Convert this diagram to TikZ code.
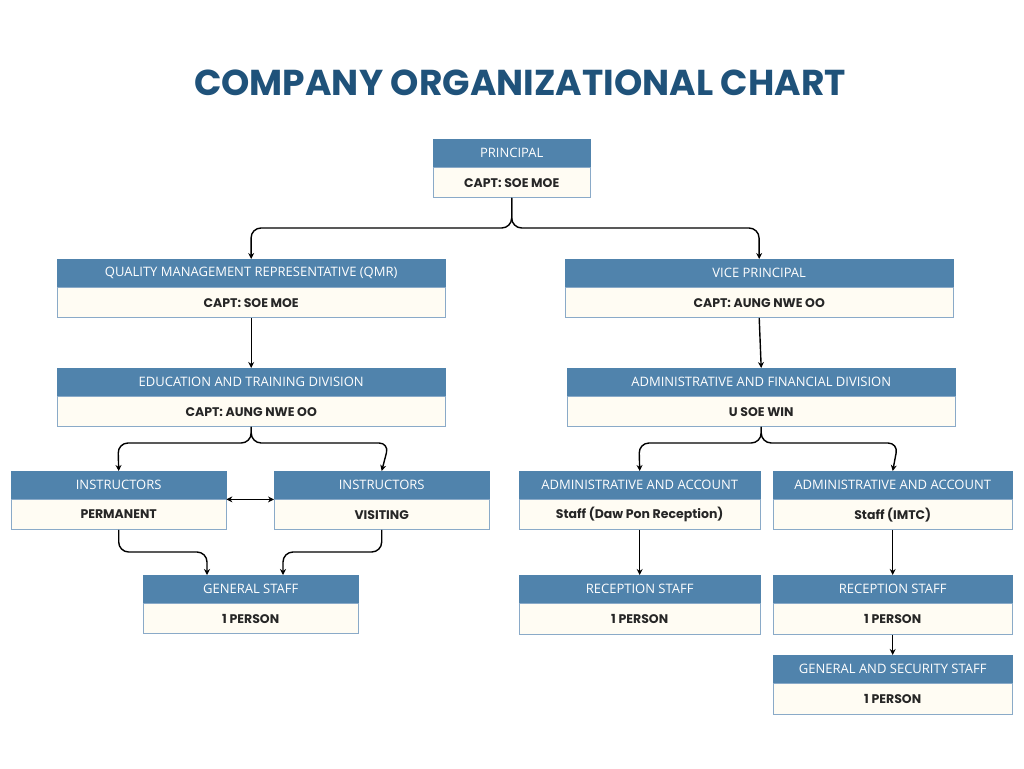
\documentclass[tikz,border=0pt]{standalone}
\usepackage{fontspec}
\setmainfont{Open Sans}
\newfontfamily\bodyfont{Poppins}
\usetikzlibrary{positioning,arrows.meta}
\definecolor{hdblue}{HTML}{5083AC}
\definecolor{bdcream}{HTML}{FFFCF3}
\definecolor{edgeblue}{HTML}{8AAAC8}
\definecolor{titleblue}{HTML}{1F527A}
\tikzset{
  hd/.style={fill=hdblue, draw=hdblue, text=white, anchor=north west, inner sep=0pt, minimum height=28pt, font=\fontsize{13}{15}\selectfont},
  bd/.style={fill=bdcream, draw=edgeblue, text=black!85, inner sep=0pt, minimum height=30pt, font=\bodyfont\bfseries\fontsize{12.5}{15}\selectfont},
  link/.style={draw, line width=1.4pt, -{Stealth[length=6pt,width=6pt]}, rounded corners=10pt}
}
\begin{document}
\begin{tikzpicture}[x=1pt, y=-1pt]
    \useasboundingbox (0,0) rectangle (1024,768);
    \node[text=titleblue, font=\bodyfont\fontsize{36}{40}\selectfont\bfseries] (title) at (520,83) {COMPANY ORGANIZATIONAL CHART};

    % top level
    \node[hd, minimum width=157pt] (hprin) at (433,139) {PRINCIPAL};
    \node[bd, minimum width=157pt, below=0pt of hprin] (prin) {CAPT: SOE MOE};

    % second level
    \node[hd, minimum width=388pt] (hqmr) at (57,259) {QUALITY MANAGEMENT REPRESENTATIVE (QMR)};
    \node[bd, minimum width=388pt, below=0pt of hqmr] (qmr) {CAPT: SOE MOE};
    \node[hd, minimum width=388pt] (hvp) at (565,259) {VICE PRINCIPAL};
    \node[bd, minimum width=388pt, below=0pt of hvp] (vp) {CAPT: AUNG NWE OO};

    % divisions
    \node[hd, minimum width=388pt] (hetd) at (57,368) {EDUCATION AND TRAINING DIVISION};
    \node[bd, minimum width=388pt, below=0pt of hetd] (etd) {CAPT: AUNG NWE OO};
    \node[hd, minimum width=388pt] (hafd) at (567,368) {ADMINISTRATIVE AND FINANCIAL DIVISION};
    \node[bd, minimum width=388pt, below=0pt of hafd] (afd) {U SOE WIN};

    % left branch
    \node[hd, minimum width=215pt] (hperm) at (11,471) {INSTRUCTORS};
    \node[bd, minimum width=215pt, below=0pt of hperm] (perm) {PERMANENT};
    \node[hd, minimum width=215pt] (hvisit) at (274,471) {INSTRUCTORS};
    \node[bd, minimum width=215pt, below=0pt of hvisit] (visit) {VISITING};
    \node[hd, minimum width=215pt] (hgen) at (143,575) {GENERAL STAFF};
    \node[bd, minimum width=215pt, below=0pt of hgen] (gen) {1 PERSON};

    % right branch
    \node[hd, minimum width=241pt] (hadma) at (519,471) {ADMINISTRATIVE AND ACCOUNT};
    \node[bd, minimum width=241pt, below=0pt of hadma] (adma) {Staff (Daw Pon Reception)};
    \node[hd, minimum width=239pt] (hadmb) at (773,471) {ADMINISTRATIVE AND ACCOUNT};
    \node[bd, minimum width=239pt, below=0pt of hadmb] (admb) {Staff (IMTC)};
    \node[hd, minimum width=241pt] (hreca) at (519,575) {RECEPTION STAFF};
    \node[bd, minimum width=241pt, below=0pt of hreca, minimum height=31pt] (reca) {1 PERSON};
    \node[hd, minimum width=239pt] (hrecb) at (773,575) {RECEPTION STAFF};
    \node[bd, minimum width=239pt, below=0pt of hrecb, minimum height=31pt] (recb) {1 PERSON};
    \node[hd, minimum width=239pt] (hsec) at (773,655) {GENERAL AND SECURITY STAFF};
    \node[bd, minimum width=239pt, below=0pt of hsec, minimum height=31pt] (sec) {1 PERSON};

    \path[link] (prin.south) |- (251,228) -- (hqmr.north);
    \path[link] (prin.south) |- (759,228) -- (hvp.north);
    \path[link] (qmr.south) -- (hetd.north);
    \path[link] (vp.south) -- (hafd.north);
    \path[link] (etd.south) |- (118,443) -- (hperm.north);
    \path[link] (etd.south) |- (389,443) -- (hvisit.north);
    \path[link] (afd.south) |- (639,443) -- (hadma.north);
    \path[link] (afd.south) |- (898,443) -- (hadmb.north);
    \draw[line width=1.4pt, {Stealth[length=6pt,width=6pt]}-{Stealth[length=6pt,width=6pt]}] (perm.north east) -- (visit.north west);
    \path[link] (perm.south) |- (207,552) -- (207,575);
    \path[link] (visit.south) |- (283,552) -- (283,575);
    \path[link] (adma.south) -- (hreca.north);
    \path[link] (admb.south) -- (hrecb.north);
    \path[link] (recb.south) -- (hsec.north);
\end{tikzpicture}
\end{document}
